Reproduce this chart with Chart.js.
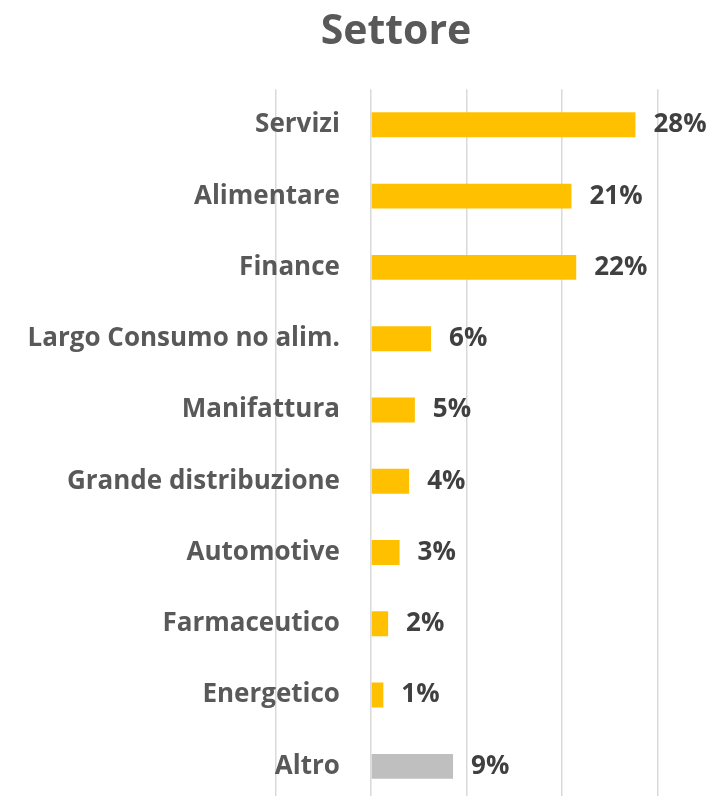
<!DOCTYPE html>
<html>
<head>
<meta charset="utf-8">
<script src="https://cdn.jsdelivr.net/npm/chart.js@4/dist/chart.umd.min.js"></script>
<style>
  html, body { margin: 0; padding: 0; background: #fff; overflow: hidden; }
  #wrap { width: 792px; height: 802px; }
</style>
</head>
<body>
<div id="wrap"><canvas id="settore"></canvas></div>
<script>
// sector shares (fractions)
const categories = ['Servizi', 'Alimentare', 'Finance', 'Largo Consumo no alim.', 'Manifattura',
  'Grande distribuzione', 'Automotive', 'Farmaceutico', 'Energetico', 'Altro'];
const shares = [0.277, 0.210, 0.215, 0.063, 0.046, 0.040, 0.030, 0.018, 0.013, 0.086];
const gridTicks = [-0.1, 0, 0.1, 0.2, 0.3, 0.4];

const barColors = categories.map(c => c === 'Altro' ? '#BFBFBF' : '#FFC000');
const FONT = '"Open Sans", "DejaVu Sans", sans-serif';

// category names + percent labels drawn next to the bars
const barLabels = {
  id: 'barLabels',
  afterDatasetsDraw(chart) {
    const ctx = chart.ctx;
    const x = chart.scales.x;
    const y = chart.scales.y;
    const zero = x.getPixelForValue(0);
    ctx.save();
    ctx.textBaseline = 'middle';
    ctx.font = 'bold 26px ' + FONT;
    ctx.fillStyle = '#595959';
    ctx.textAlign = 'right';
    categories.forEach((c, i) => {
      ctx.fillText(c, zero - 31, y.getPixelForValue(i));
    });
    ctx.fillStyle = '#404040';
    ctx.textAlign = 'left';
    shares.forEach((v, i) => {
      ctx.fillText(Math.round(v * 100) + '%', x.getPixelForValue(v) + 18, y.getPixelForValue(i));
    });
    ctx.restore();
  }
};

new Chart(document.getElementById('settore'), {
  type: 'bar',
  data: {
    labels: categories,
    datasets: [{
      data: shares,
      backgroundColor: barColors,
      categoryPercentage: 1,
      barPercentage: 0.35
    }]
  },
  options: {
    indexAxis: 'y',
    responsive: true,
    maintainAspectRatio: false,
    animation: false,
    layout: { padding: 0 },
    scales: {
      x: {
        min: -0.3885,
        max: 0.441,
        afterBuildTicks(scale) { scale.ticks = gridTicks.map(v => ({ value: v })); },
        ticks: { display: false },
        grid: { color: '#D9D9D9', lineWidth: 1.5, drawTicks: false },
        border: { display: false }
      },
      y: { display: false }
    },
    plugins: {
      legend: { display: false },
      tooltip: { enabled: false },
      title: {
        display: true,
        text: 'Settore',
        color: '#595959',
        font: { family: FONT, size: 41, weight: 'bold', lineHeight: 1.2 },
        padding: { top: 8, bottom: 32 }
      }
    }
  },
  plugins: [barLabels]
});
</script>
</body>
</html>
